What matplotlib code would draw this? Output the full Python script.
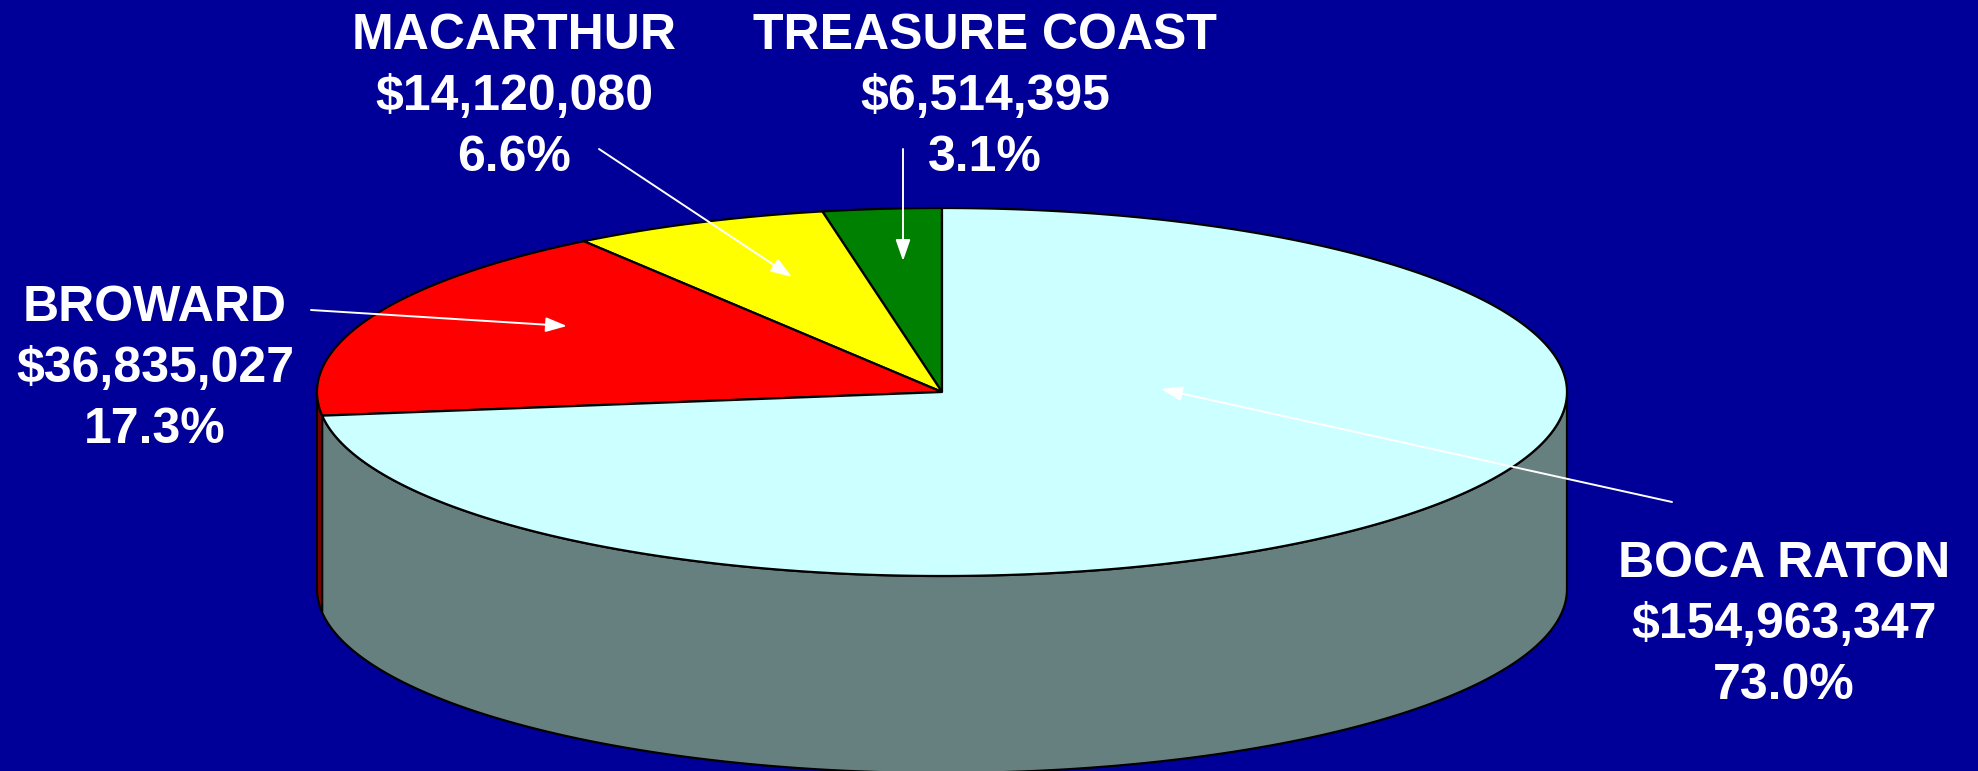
import numpy as np
import matplotlib
matplotlib.use("Agg")
import matplotlib.pyplot as plt
from matplotlib.patches import Polygon

# Revenue by region
regions = ["TREASURE COAST", "MACARTHUR", "BROWARD", "BOCA RATON"]
amounts = [6514395, 14120080, 36835027, 154963347]
percents = [3.1, 6.6, 17.3, 73.0]
top_colors = ["#008000", "#FFFF00", "#FF0000", "#CCFFFF"]
side_colors = ["#004000", "#808000", "#800000", "#668080"]

BG = "#000099"
W, H = 1978, 771

fig = plt.figure(figsize=(W / 100, H / 100), dpi=100)
fig.patch.set_facecolor(BG)
ax = fig.add_axes([0, 0, 1, 1])
ax.set_xlim(0, W)
ax.set_ylim(H, 0)
ax.axis("off")
ax.set_facecolor(BG)

# 3D pie geometry (screen units, y downward)
cx, cy, rx, ry, depth = 942, 392, 625, 184, 197


def pt(theta_deg, dy=0.0):
    t = np.radians(theta_deg)
    return cx + rx * np.cos(t), cy - ry * np.sin(t) + dy


total = float(sum(amounts))
fracs = [a / total for a in amounts]
edges = [90.0]
for f in fracs:
    edges.append(edges[-1] + 360.0 * f)

# front side walls (visible between 180 and 360 degrees)
for i in range(len(amounts)):
    a, b = max(edges[i], 180.0), min(edges[i + 1], 360.0)
    if b <= a:
        continue
    th = np.linspace(a, b, 200)
    top = [pt(t) for t in th]
    bot = [pt(t, depth) for t in th[::-1]]
    ax.add_patch(Polygon(top + bot, closed=True, facecolor=side_colors[i],
                         edgecolor="black", lw=1.6, joinstyle="round", zorder=2))

# top face wedges
for i in range(len(amounts)):
    th = np.linspace(edges[i], edges[i + 1], 300)
    verts = [(cx, cy)] + [pt(t) for t in th]
    ax.add_patch(Polygon(verts, closed=True, facecolor=top_colors[i],
                         edgecolor="black", lw=1.6, joinstyle="round", zorder=3))

# labels: name, amount, percentage
label_pos = {
    "TREASURE COAST": (985, 49),
    "MACARTHUR": (514, 49),
    "BROWARD": (155, 321),
    "BOCA RATON": (1784, 577),
}
line_step = 61
for name, amt, p in zip(regions, amounts, percents):
    x, y0 = label_pos[name]
    lines = [name, f"${amt:,}", f"{p:.1f}%"]
    for k, s in enumerate(lines):
        ax.text(x, y0 + k * line_step, s, color="white", fontsize=36,
                fontweight="bold", family=["Liberation Sans", "DejaVu Sans"],
                ha="center", va="baseline", zorder=5)

# leader arrows (tail -> tip)
arrows = [
    ((903, 149), (903, 261)),
    ((599, 149), (792, 277)),
    ((311, 310), (567, 326)),
    ((1672, 502), (1161, 389)),
]
for tail, tip in arrows:
    ax.annotate("", xy=tip, xytext=tail,
                arrowprops=dict(arrowstyle="-|>,head_length=1.3,head_width=0.45",
                                color="white", lw=1.4, shrinkA=0, shrinkB=0,
                                mutation_scale=10),
                zorder=6)

fig.savefig("out.png", dpi=100, facecolor=BG)
